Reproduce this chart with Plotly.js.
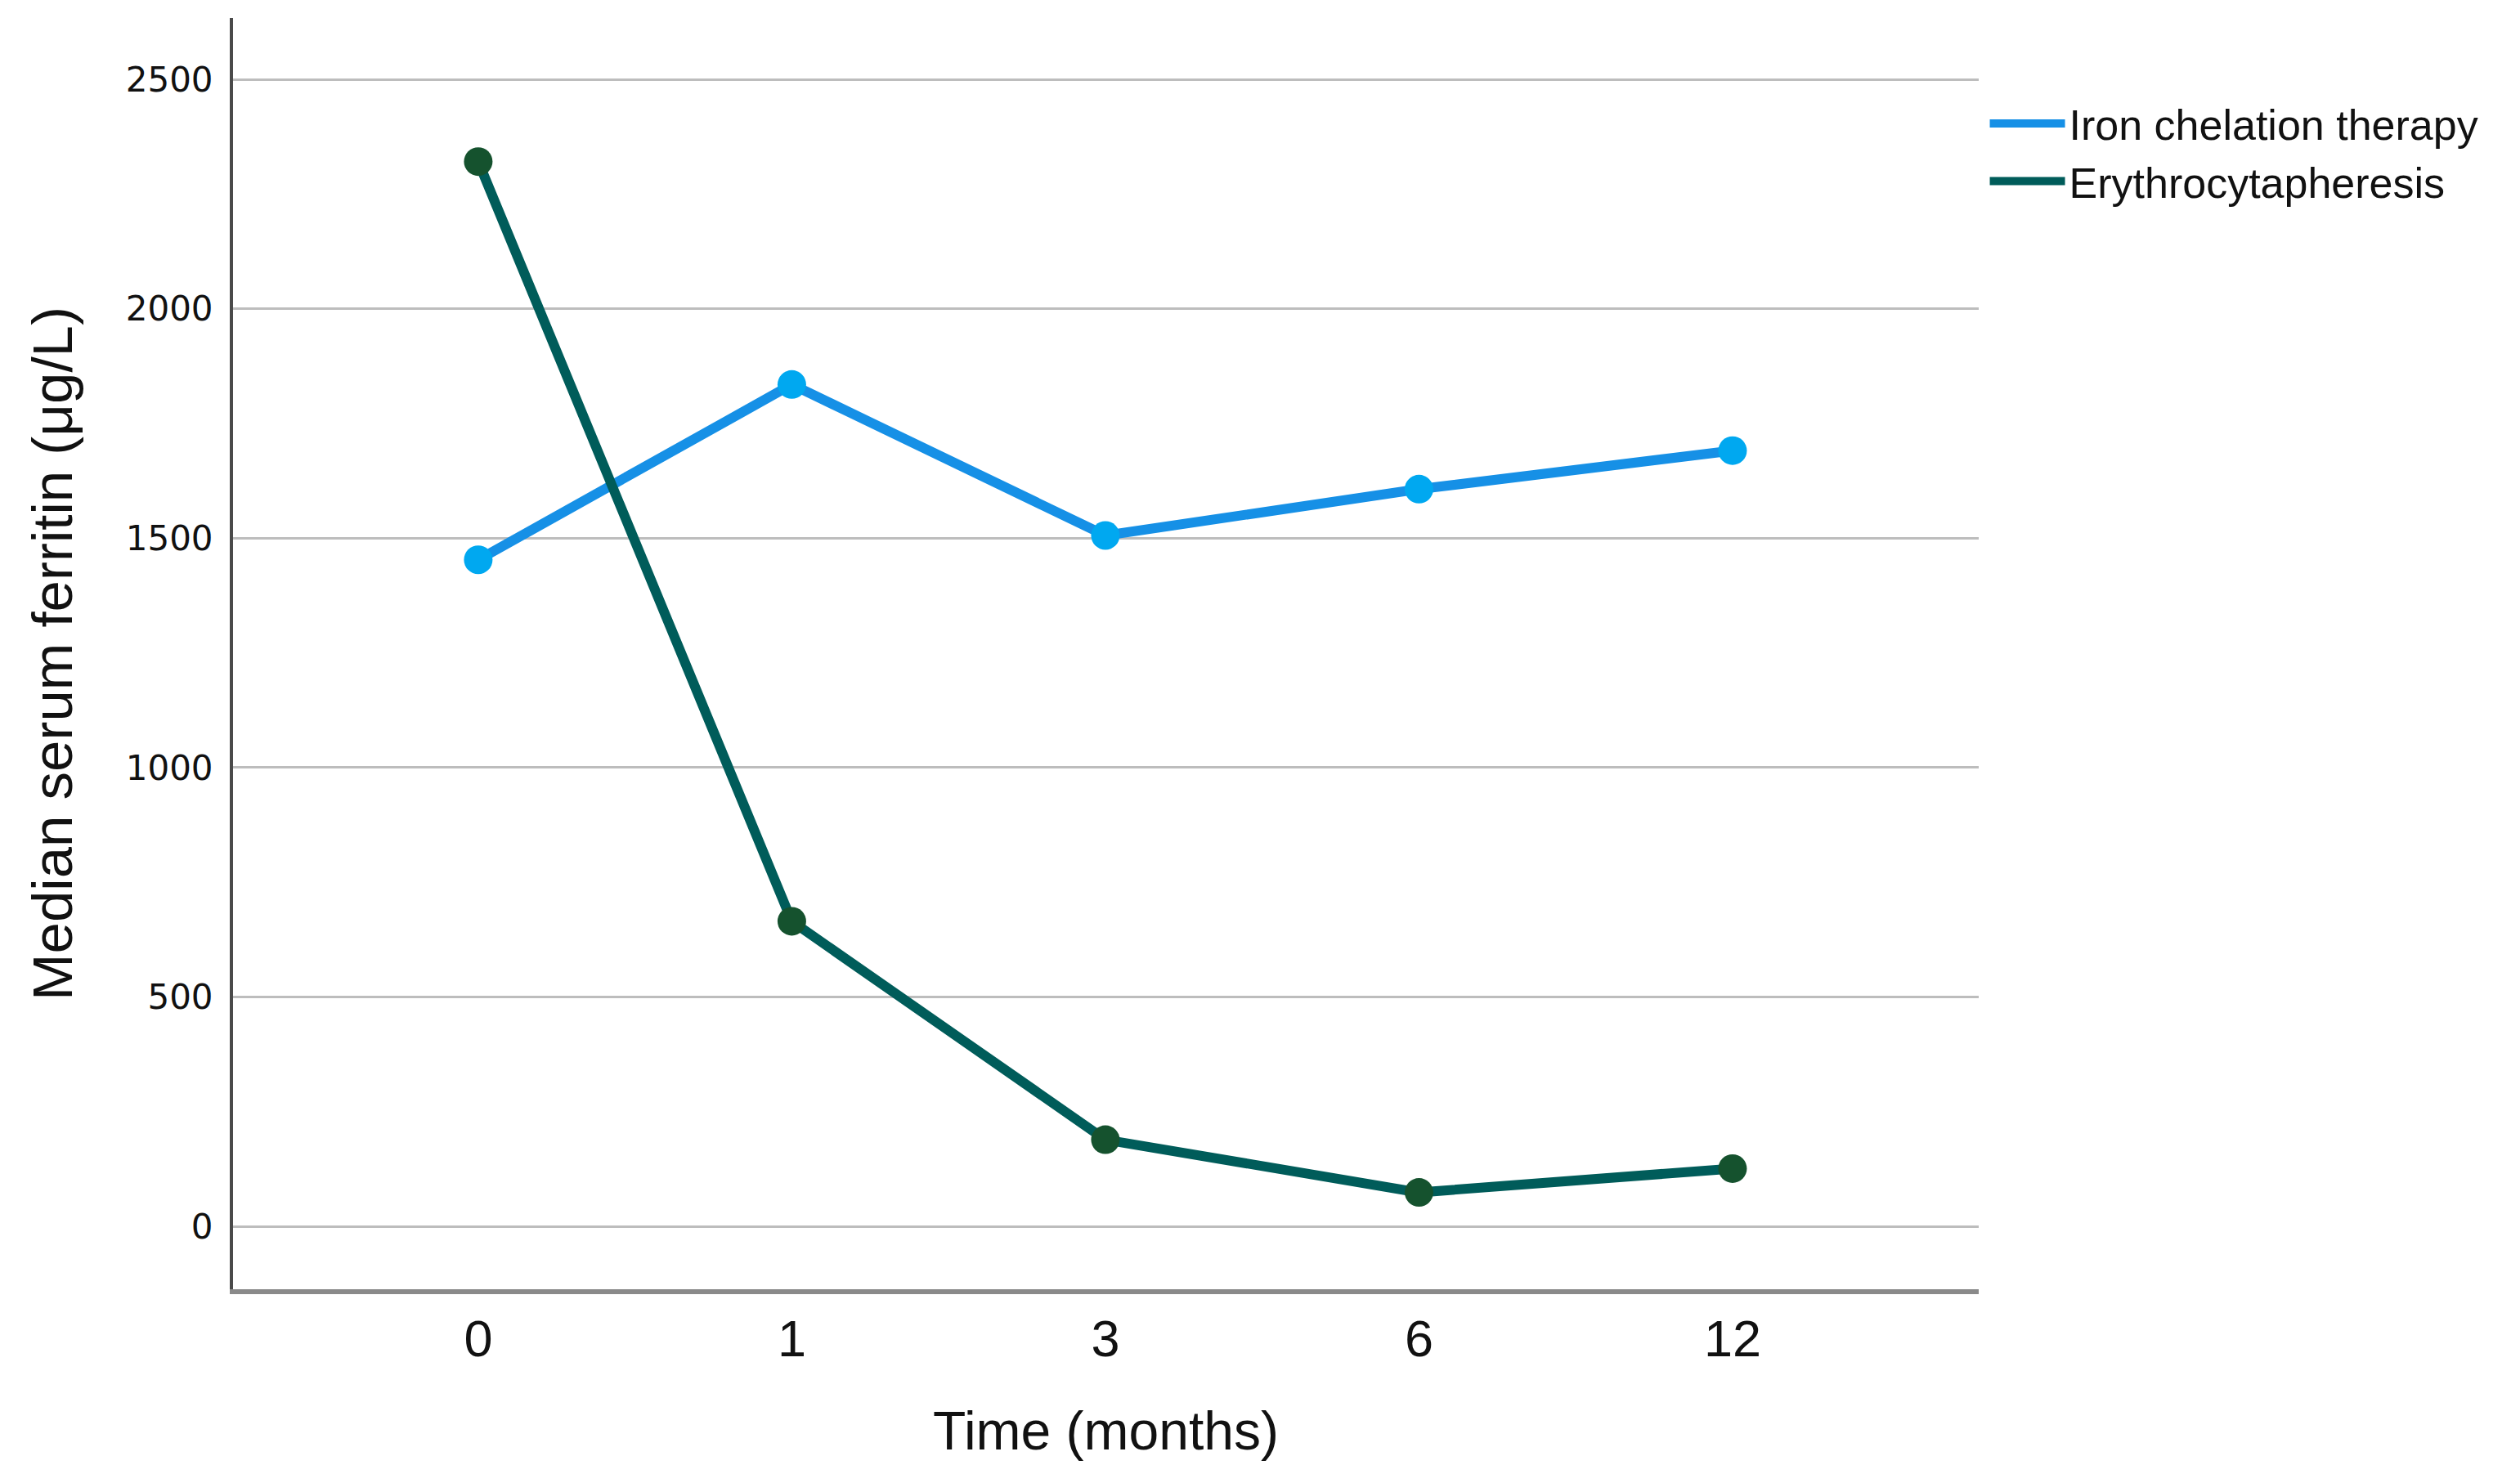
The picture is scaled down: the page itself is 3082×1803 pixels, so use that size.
<!DOCTYPE html>
<html>
<head>
<meta charset="utf-8">
<script src="https://cdn.plot.ly/plotly-3.0.1.min.js"></script>
<style>html,body{margin:0;padding:0;background:#fff;}#chart{width:3082px;height:1803px;}</style>
</head>
<body>
<div id="chart"></div>
<script>
const months = ["0", "1", "3", "6", "12"];
const ironChelation = [1453, 1835, 1506, 1607, 1691];
const erythrocytapheresis = [2321, 665, 189, 74, 126];
const yTicks = [0, 500, 1000, 1500, 2000, 2500];

const traces = [
  {
    x: months, y: ironChelation, type: "scatter", mode: "lines+markers",
    name: "Iron chelation therapy", showlegend: false,
    line: {color: "#1690e6", width: 12},
    marker: {color: "#00a8f0", size: 35}
  },
  {
    x: months, y: erythrocytapheresis, type: "scatter", mode: "lines+markers",
    name: "Erythrocytapheresis", showlegend: false,
    line: {color: "#005c5a", width: 12},
    marker: {color: "#15522e", size: 35}
  },
  {
    x: [null], y: [null], type: "scatter", mode: "lines",
    name: "Iron chelation therapy", showlegend: true,
    line: {color: "#1690e6", width: 12}
  },
  {
    x: [null], y: [null], type: "scatter", mode: "lines",
    name: "Erythrocytapheresis", showlegend: true,
    line: {color: "#005c5a", width: 12}
  }
];

const layout = {
  width: 3082, height: 1803,
  paper_bgcolor: "#ffffff", plot_bgcolor: "#ffffff",
  margin: {l: 285, r: 662, t: 22, b: 226, pad: 0},
  font: {family: "Liberation Sans, Arial, sans-serif", color: "#111111"},
  showlegend: true,
  legend: {
    x: 1.004, xanchor: "left", y: 0.943, yanchor: "top",
    font: {size: 52, color: "#111111"},
    itemwidth: 92, tracegroupgap: 0,
    bgcolor: "rgba(0,0,0,0)", borderwidth: 0
  },
  xaxis: {
    type: "category",
    categoryorder: "array", categoryarray: months,
    range: [-0.782, 4.785],
    showgrid: false, zeroline: false,
    showline: true, linecolor: "#8a8a8a", linewidth: 6,
    ticks: "", ticklabelstandoff: 0,
    tickfont: {size: 63, family: "Liberation Sans, Arial, sans-serif", color: "#111111"},
    title: {text: "Time (months)", font: {size: 66, family: "Liberation Sans, Arial, sans-serif", color: "#111111"}, standoff: 58}
  },
  yaxis: {
    range: [-137, 2634],
    tickvals: yTicks, ticktext: yTicks.map(String),
    showgrid: true, gridcolor: "#bdbdbd", gridwidth: 3,
    zeroline: false,
    showline: true, linecolor: "#4a4a4a", linewidth: 4,
    ticks: "", ticklabelstandoff: 12,
    tickfont: {size: 42, family: "DejaVu Sans, sans-serif", color: "#111111"},
    title: {text: "Median serum ferritin (μg/L)", font: {size: 69, family: "Liberation Sans, Arial, sans-serif", color: "#111111"}, standoff: 44}
  }
};

Plotly.newPlot("chart", traces, layout, {staticPlot: true, displayModeBar: false});
</script>
</body>
</html>
